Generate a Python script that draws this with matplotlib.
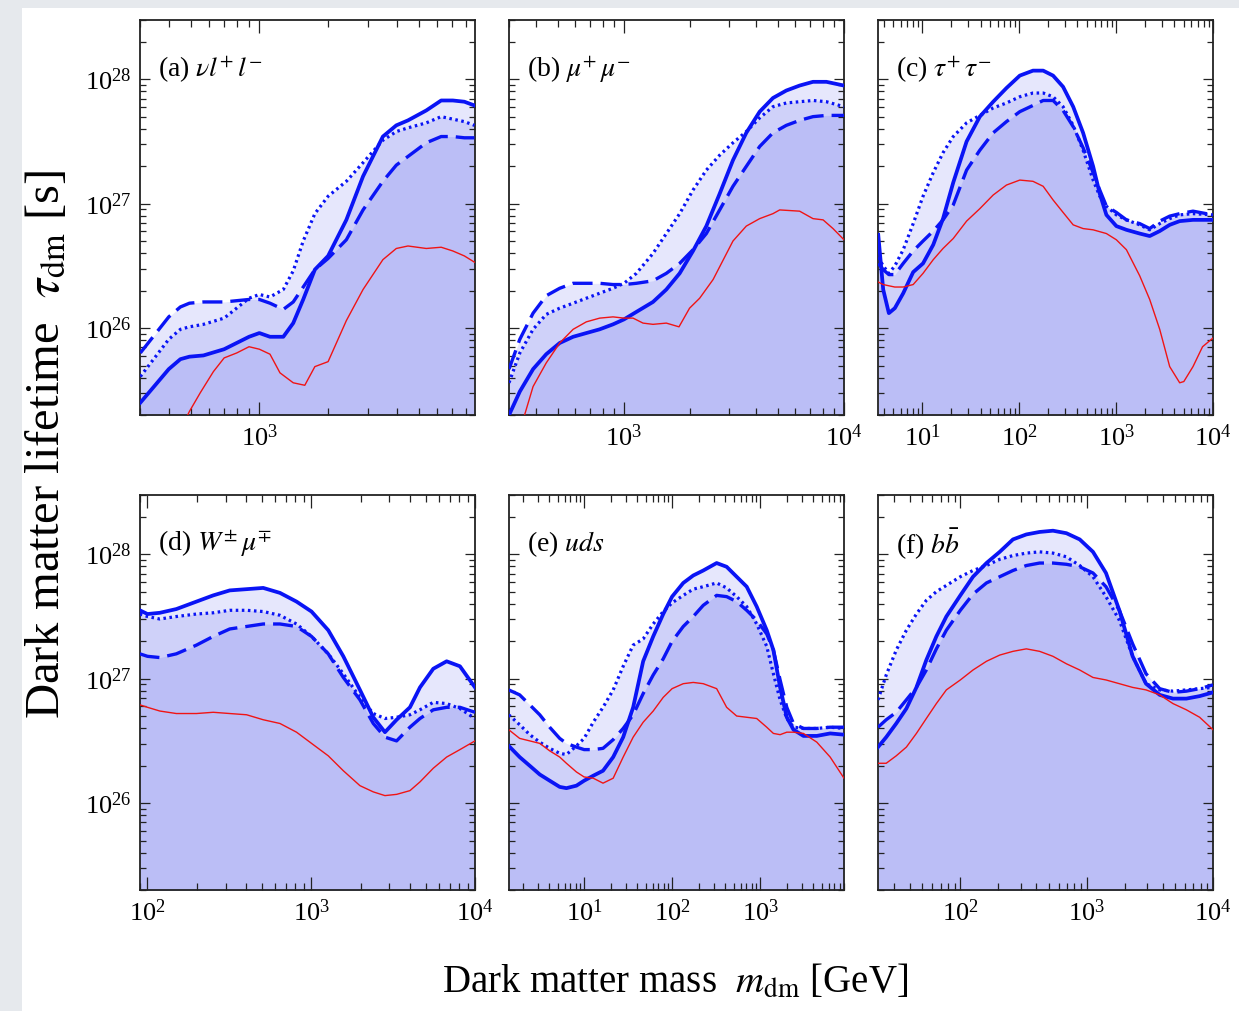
import numpy as np
import matplotlib.pyplot as plt
from matplotlib.patches import Rectangle

# -------------------------
# Data: dark matter mass [GeV] and log10(lifetime / s)
# -------------------------

# (a) nu l+ l-
a_mass = [301, 401, 451, 494, 569, 701, 901, 1000, 1113, 1273, 1407, 1556,
          1750, 2000, 2404, 2845, 3475, 3979, 4477, 5385, 6256, 7036, 7907, 8750]
a_solid = [25.40, 25.67, 25.75, 25.77, 25.78, 25.83, 25.93, 25.96, 25.93, 25.93, 26.04, 26.23,
           26.47, 26.58, 26.87, 27.22, 27.54, 27.63, 27.67, 27.75, 27.83, 27.83, 27.82, 27.79]
a_dotted = [25.61, 25.91, 25.99, 26.01, 26.03, 26.08, 26.24, 26.27, 26.25, 26.31, 26.46, 26.70,
            26.92, 27.06, 27.18, 27.33, 27.51, 27.58, 27.61, 27.65, 27.70, 27.68, 27.66, 27.63]
a_dashed = [25.80, 26.09, 26.17, 26.20, 26.21, 26.21, 26.23, 26.23, 26.20, 26.15, 26.21, 26.33,
            26.47, 26.56, 26.71, 26.95, 27.18, 27.31, 27.38, 27.49, 27.54, 27.54, 27.53, 27.53]
a_red_mass = [473, 494, 551, 629, 701, 796, 901, 1000, 1113, 1231, 1407, 1581,
              1750, 2000, 2404, 2845, 3475, 3979, 4477, 5385, 6256, 7036, 7907, 8750]
a_red = [25.26, 25.33, 25.48, 25.65, 25.76, 25.80, 25.85, 25.83, 25.79, 25.64, 25.56, 25.54,
         25.69, 25.73, 26.06, 26.31, 26.55, 26.64, 26.66, 26.64, 26.65, 26.62, 26.58, 26.53]

# (b) mu+ mu-
b_mass = [300, 336, 386, 443, 510, 587, 674, 775, 891, 1000, 1138, 1354, 1557,
          1790, 2059, 2367, 2721, 3128, 3596, 4137, 4754, 5467, 6285, 7228, 8318, 10000]
b_solid = [25.30, 25.49, 25.67, 25.79, 25.88, 25.93, 25.96, 25.99, 26.03, 26.07, 26.13, 26.21, 26.31,
           26.44, 26.62, 26.82, 27.08, 27.35, 27.57, 27.74, 27.85, 27.91, 27.95, 27.98, 27.98, 27.95]
b_dotted = [25.56, 25.80, 25.99, 26.11, 26.16, 26.20, 26.24, 26.28, 26.32, 26.36, 26.44, 26.60, 26.76,
            26.92, 27.11, 27.27, 27.39, 27.49, 27.58, 27.69, 27.78, 27.81, 27.82, 27.83, 27.82, 27.78]
b_dashed = [25.67, 25.91, 26.12, 26.26, 26.32, 26.36, 26.36, 26.36, 26.35, 26.35, 26.36, 26.38, 26.44,
            26.52, 26.63, 26.76, 26.95, 27.14, 27.30, 27.46, 27.57, 27.63, 27.67, 27.70, 27.71, 27.71]
b_red_mass = [353, 386, 443, 510, 587, 674, 775, 891, 1000, 1099, 1220, 1354, 1557, 1778,
              1986, 2207, 2540, 3128, 3596, 4137, 4754, 5101, 6285, 7228, 8035, 8913, 10000]
b_red = [25.30, 25.53, 25.72, 25.88, 25.99, 26.05, 26.08, 26.09, 26.08, 26.08, 26.04, 26.03, 26.04, 26.01,
         26.16, 26.24, 26.39, 26.70, 26.82, 26.88, 26.92, 26.95, 26.94, 26.88, 26.87, 26.80, 26.71]

# (c) tau+ tau-
c_mass = [3.52, 3.96, 4.53, 5.22, 6.37, 8.07, 10.2, 13.0, 16.4, 20.9, 28.7, 39.3, 54.0, 74.0, 101.6,
          139, 177, 224, 284, 361, 457, 580, 679, 795, 1007, 1279, 1754, 2223, 2820, 3575, 4532,
          6217, 10000]
c_solid = [26.75, 26.31, 26.12, 26.16, 26.28, 26.45, 26.52, 26.67, 26.88, 27.17, 27.50, 27.70, 27.82,
           27.93, 28.03, 28.07, 28.07, 28.03, 27.94, 27.78, 27.57, 27.30, 27.08, 26.91, 26.82, 26.79,
           26.76, 26.74, 26.78, 26.83, 26.86, 26.87, 26.87]
c_dotted = [26.57, 26.50, 26.44, 26.50, 26.63, 26.84, 27.06, 27.25, 27.41, 27.54, 27.65, 27.71, 27.77,
            27.81, 27.86, 27.89, 27.89, 27.86, 27.78, 27.63, 27.43, 27.19, 27.06, 26.98, 26.91, 26.87,
            26.83, 26.79, 26.84, 26.88, 26.91, 26.92, 26.91]
c_dashed = [26.52, 26.47, 26.43, 26.43, 26.52, 26.62, 26.70, 26.78, 26.87, 26.99, 27.27, 27.43, 27.57,
            27.66, 27.74, 27.79, 27.83, 27.83, 27.75, 27.62, 27.45, 27.25, 27.11, 26.98, 26.93, 26.87,
            26.84, 26.80, 26.86, 26.90, 26.92, 26.94, 26.91]
c_red_mass = [3.52, 3.96, 4.53, 5.22, 6.37, 8.07, 10.2, 13.0, 16.4, 20.9, 28.7, 39.3, 54.0, 74.0,
              101.6, 139, 177, 224, 284, 361, 457, 580, 795, 1007, 1279, 1754, 2223, 2820, 3575,
              4532, 5000, 6217, 7800, 10000]
c_red = [26.37, 26.35, 26.34, 26.33, 26.33, 26.35, 26.44, 26.55, 26.64, 26.72, 26.86, 26.96, 27.07,
         27.15, 27.19, 27.18, 27.14, 27.03, 26.93, 26.83, 26.80, 26.79, 26.76, 26.71, 26.63, 26.42,
         26.23, 25.99, 25.69, 25.56, 25.57, 25.69, 25.85, 25.92]

# (d) W+- mu-+
d_mass = [89.8, 100, 119, 150, 199, 252, 318, 403, 509, 644, 813, 1004, 1270, 1570, 1983,
          2392, 2819, 3321, 4006, 4612, 5561, 6712, 8091, 10000]
d_solid = [27.55, 27.52, 27.53, 27.56, 27.62, 27.67, 27.71, 27.72, 27.73, 27.69, 27.62, 27.54, 27.39,
           27.18, 26.91, 26.69, 26.57, 26.67, 26.77, 26.93, 27.08, 27.14, 27.10, 26.93]
d_dotted = [27.52, 27.50, 27.48, 27.50, 27.52, 27.53, 27.55, 27.55, 27.54, 27.51, 27.44, 27.34, 27.20,
            27.04, 26.85, 26.72, 26.68, 26.69, 26.71, 26.75, 26.81, 26.80, 26.76, 26.68]
d_dashed = [27.20, 27.18, 27.17, 27.20, 27.27, 27.34, 27.40, 27.42, 27.44, 27.44, 27.42, 27.34, 27.20,
            27.01, 26.83, 26.64, 26.53, 26.50, 26.61, 26.68, 26.75, 26.77, 26.77, 26.73]
d_red_mass = d_mass
d_red = [26.79, 26.77, 26.74, 26.72, 26.72, 26.73, 26.72, 26.71, 26.67, 26.64, 26.57, 26.48, 26.38,
         26.26, 26.14, 26.09, 26.06, 26.07, 26.10, 26.17, 26.28, 26.37, 26.43, 26.50]

# (e) uds
e_mass = [1.39, 1.85, 2.41, 3.13, 4.06, 5.28, 6.29, 8.18, 10.0, 12.7, 16.4, 21.4, 27.8, 36.1, 46.9,
          61.0, 79.3, 100, 134, 174, 226, 321, 417, 542, 705, 916, 1191, 1418, 1690, 2013, 2398,
          3114, 4415, 6266, 9000]
e_solid = [26.46, 26.37, 26.30, 26.23, 26.18, 26.13, 26.12, 26.14, 26.18, 26.22, 26.26, 26.37, 26.53,
           26.77, 27.14, 27.34, 27.52, 27.66, 27.77, 27.83, 27.87, 27.93, 27.90, 27.82, 27.74, 27.58,
           27.39, 27.23, 26.93, 26.69, 26.59, 26.54, 26.54, 26.56, 26.55]
e_dotted = [26.71, 26.63, 26.55, 26.49, 26.44, 26.40, 26.39, 26.46, 26.52, 26.65, 26.77, 26.91, 27.10,
            27.27, 27.32, 27.44, 27.54, 27.61, 27.67, 27.72, 27.74, 27.77, 27.73, 27.66, 27.58, 27.44,
            27.26, 27.04, 26.83, 26.68, 26.61, 26.60, 26.60, 26.61, 26.60]
e_dashed = [26.91, 26.87, 26.79, 26.71, 26.61, 26.52, 26.48, 26.45, 26.43, 26.43, 26.44, 26.51, 26.60,
            26.71, 26.88, 27.03, 27.16, 27.30, 27.42, 27.50, 27.59, 27.67, 27.66, 27.62, 27.55, 27.47,
            27.36, 27.23, 26.99, 26.77, 26.64, 26.60, 26.60, 26.61, 26.61]
e_red_mass = e_mass
e_red = [26.59, 26.52, 26.50, 26.48, 26.42, 26.37, 26.32, 26.25, 26.21, 26.20, 26.16, 26.20, 26.37,
         26.53, 26.65, 26.74, 26.85, 26.92, 26.96, 26.97, 26.96, 26.92, 26.77, 26.70, 26.69, 26.68,
         26.61, 26.56, 26.55, 26.57, 26.57, 26.56, 26.49, 26.37, 26.20]

# (f) b bbar
f_mass = [22.3, 25.9, 31.1, 37.4, 44.9, 53.8, 64.6, 77.5, 100, 126, 161, 205, 261, 333, 424,
          541, 691, 881, 1122, 1422, 1814, 2312, 2950, 3784, 4820, 6150, 7837, 10000]
f_solid = [26.45, 26.53, 26.64, 26.76, 26.93, 27.15, 27.34, 27.50, 27.67, 27.82, 27.93, 28.02, 28.12,
           28.16, 28.18, 28.19, 28.17, 28.12, 28.02, 27.85, 27.55, 27.18, 26.96, 26.87, 26.84, 26.84,
           26.86, 26.89]
f_dotted = [26.83, 27.03, 27.23, 27.39, 27.52, 27.63, 27.70, 27.75, 27.82, 27.87, 27.91, 27.96, 27.99,
            28.01, 28.02, 28.01, 27.98, 27.91, 27.82, 27.66, 27.47, 27.18, 26.96, 26.91, 26.90, 26.91,
            26.92, 26.93]
f_dashed = [26.61, 26.67, 26.73, 26.83, 26.93, 27.07, 27.24, 27.39, 27.55, 27.68, 27.77, 27.82, 27.87,
            27.91, 27.93, 27.93, 27.92, 27.90, 27.85, 27.74, 27.55, 27.28, 27.04, 26.92, 26.89, 26.90,
            26.92, 26.95]
f_red_mass = f_mass
f_red = [26.32, 26.32, 26.38, 26.45, 26.56, 26.68, 26.80, 26.91, 26.99, 27.07, 27.14, 27.19, 27.22,
         27.24, 27.22, 27.18, 27.12, 27.07, 27.01, 26.99, 26.96, 26.93, 26.91, 26.87, 26.80, 26.75,
         26.69, 26.59]

labels = [r"(a) $\nu l^{+}\, l^{-}$", r"(b) $\mu^{+}\, \mu^{-}$", r"(c) $\tau^{+}\, \tau^{-}$",
          r"(d) $W^{\pm}\, \mu^{\mp}$", r"(e) $uds$", r"(f) $b\bar{b}$"]
xlims = [(300, 8800), (300, 1e4), (3.5, 1e4), (90, 1e4), (1.4, 9000), (22.3, 1e4)]
YLIM = (2e25, 3e28)

panels = [
    (a_mass, a_solid, a_dotted, a_dashed, a_red_mass, a_red),
    (b_mass, b_solid, b_dotted, b_dashed, b_red_mass, b_red),
    (c_mass, c_solid, c_dotted, c_dashed, c_red_mass, c_red),
    (d_mass, d_solid, d_dotted, d_dashed, d_red_mass, d_red),
    (e_mass, e_solid, e_dotted, e_dashed, e_red_mass, e_red),
    (f_mass, f_solid, f_dotted, f_dashed, f_red_mass, f_red),
]

# -------------------------
# Style
# -------------------------

plt.rcParams["font.family"] = ["Liberation Serif", "DejaVu Serif"]
plt.rcParams["mathtext.fontset"] = "stix"
plt.rcParams["axes.linewidth"] = 1.3

BLUE = "#0a14f5"
FILL = "#1420e6"
RED = "#f01414"

fig = plt.figure(figsize=(12.39, 10.11), dpi=100, facecolor="#e6e9ed")
fig.patches.append(Rectangle((22 / 1239, 0), 1, 1 - 8 / 1011, transform=fig.transFigure,
                             facecolor="white", edgecolor="none", zorder=-10))

lefts = [140, 509, 878]
bottoms = [415, 890]
W, H = 335, 395

for i, (mass, solid, dotted, dashed, red_mass, red) in enumerate(panels):
    row, col = divmod(i, 3)
    ax = fig.add_axes([lefts[col] / 1239, 1 - bottoms[row] / 1011, W / 1239, H / 1011])
    ax.set_xscale("log")
    ax.set_yscale("log")
    ax.set_xlim(*xlims[i])
    ax.set_ylim(*YLIM)

    m = np.array(mass)
    for curve in (solid, dotted, dashed):
        ax.fill_between(m, 1e24, 10 ** np.array(curve), color=FILL, alpha=0.105,
                        lw=0, zorder=1)
    ax.plot(m, 10 ** np.array(dashed), color=BLUE, lw=2.4, dashes=(6, 2.4), zorder=3)
    ax.plot(m, 10 ** np.array(dotted), color=BLUE, lw=2.3, dashes=(0.8, 1.1), zorder=3)
    ax.plot(m, 10 ** np.array(solid), color=BLUE, lw=2.7, zorder=4)
    ax.plot(red_mass, 10 ** np.array(red), color=RED, lw=1.0, zorder=5)

    ax.text(0.055, 0.875, labels[i], transform=ax.transAxes, fontsize=20,
            va="center", ha="left", zorder=6)

    ax.tick_params(which="both", direction="in", top=True, right=True,
                   labelsize=19, width=0.9, colors="#222222", labelcolor="black")
    ax.tick_params(axis="x", which="major", length=9.5, pad=7)
    ax.tick_params(axis="x", which="minor", length=5)
    ax.tick_params(axis="y", which="major", length=7.5, pad=6)
    ax.tick_params(axis="y", which="minor", length=4)
    if col != 0:
        ax.tick_params(axis="y", which="both", labelleft=False)
    for s in ax.spines.values():
        s.set_color("#222222")

fig.text(0.038, 0.56, r"Dark matter lifetime  $\tau_{\rm dm}$ [s]", rotation=90,
         fontsize=35, ha="center", va="center")
fig.text(0.545, 0.028, r"Dark matter mass  $m_{\rm dm}$ [GeV]",
         fontsize=28, ha="center", va="center")

fig.savefig("out.png", dpi=100, facecolor=fig.get_facecolor())
